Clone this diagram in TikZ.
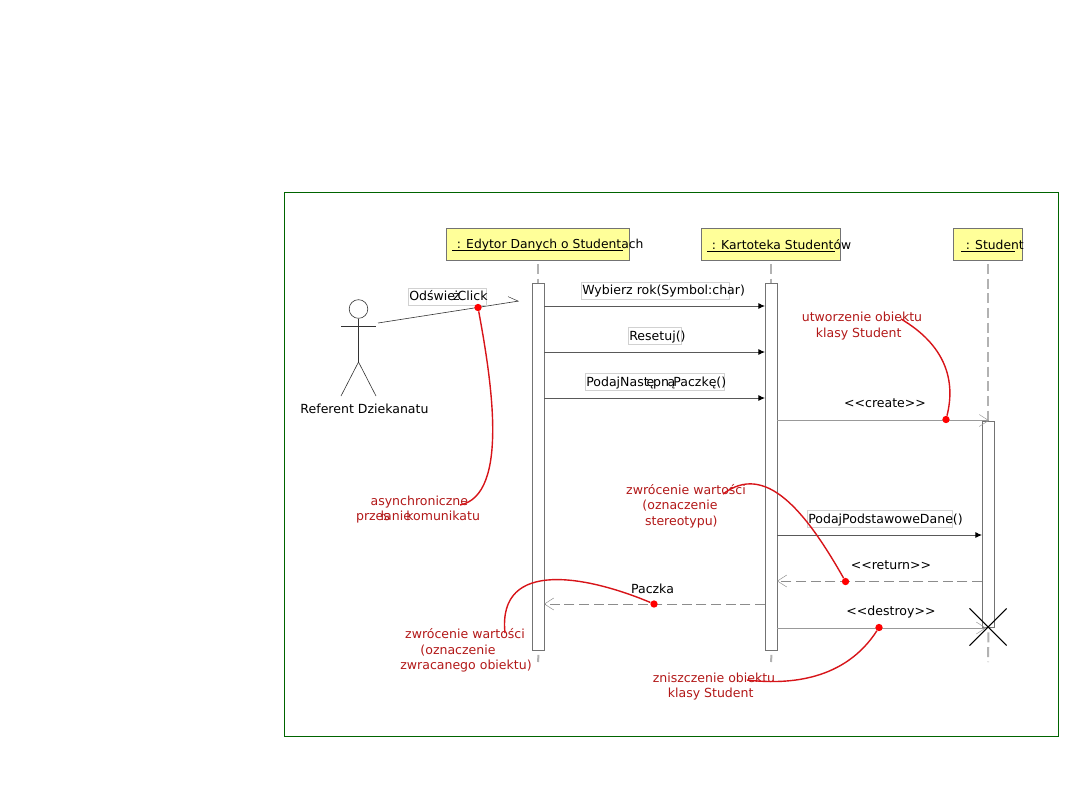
\documentclass[tikz,border=0pt]{standalone}
\usepackage{fontspec}
\setmainfont{DejaVu Sans}
\usepackage{tikz}
\usetikzlibrary{arrows.meta, shapes.misc}
\definecolor{framegreen}{RGB}{0,100,0}
\definecolor{headyellow}{RGB}{255,255,153}
\definecolor{noteline}{RGB}{215,20,25}
\definecolor{notetext}{RGB}{178,24,24}
\newcommand{\HeadText}[2]{\rlap{\hspace{0.5pt}#2}\rule[-1.6pt]{#1}{0.5pt}}
\newcommand{\BoxText}[2]{\rlap{#2}\rule{#1}{0pt}}
\tikzset{
    every node/.append style={font=\fontsize{9.4}{11.6}\selectfont},
    head/.style={draw=black!55, fill=headyellow, line width=0.7pt, inner sep=0, anchor=north west},
    headlabel/.style={anchor=west, inner sep=0, font=\fontsize{9.25}{11.6}\selectfont},
    bar/.style={draw=black!55, fill=white, line width=0.7pt, inner sep=0, anchor=north west, minimum width=9pt},
    lifeline/.style={draw=black!30, line width=1.5pt, dash pattern=on 7.5pt off 3.5pt},
    msg/.style={draw=black!65, line width=0.7pt, -{Latex[length=5pt,width=4.5pt,black]}},
    msgopen/.style={draw=black!40, line width=0.6pt, -{Straight Barb[length=7pt,width=9pt,line width=0.35pt]}},
    msgback/.style={msgopen, draw=black!45, dash pattern=on 7.5pt off 3.5pt},
    msgbox/.style={draw=black!18, line width=0.5pt, inner sep=0.8pt, anchor=west, text height=8.5pt, text depth=2.5pt},
    msgtext/.style={inner sep=0},
    note/.style={text=notetext, align=center, inner sep=0},
    notedot/.style={circle, fill=red, inner sep=0, minimum size=5.5pt},
    noteline/.style={draw=noteline, line width=1.05pt},
    stick/.style={draw=black!80, line width=0.45pt},
}
\begin{document}
\begin{tikzpicture}[x=0.75pt, y=-0.75pt]
    \useasboundingbox (0,0) rectangle (1080,810);
    \draw[framegreen, line width=0.75pt] (284.5,192.5) rectangle (1058.5,736.5);

    % objects in the top row
    \node[head, minimum width=137.2pt, minimum height=24pt] (edytor) at (446,228) {};
    \node[head, minimum width=104.2pt, minimum height=24pt] (kartoteka) at (701,228) {};
    \node[head, minimum width=51.7pt, minimum height=24pt] (student) at (953,228) {};
    \node[headlabel] (edytortext) at (452,245.5) {\HeadText{128pt}{\ : Edytor Danych o Studentach}};
    \node[headlabel] (kartotekatext) at (707,245.5) {\HeadText{96pt}{\ : Kartoteka Studentów}};
    \node[headlabel] (studenttext) at (961,245.5) {\HeadText{40.5pt}{\ : Student}};

    % activation bars
    \node[bar, minimum height=275.2pt] (edytorbar) at (532,283) {};
    \node[bar, minimum height=275.2pt] (kartotekabar) at (765,283) {};
    \node[bar, minimum height=155.2pt] (studentbar) at (982,420.5) {};

    % lifelines
    \coordinate (edytorend) at (538,662);
    \coordinate (kartotekaend) at (771,662);
    \coordinate (studentend) at (988,662);
    \draw[lifeline] (edytor.south -| edytorbar.north) ++(0,3) -- (edytorbar.north);
    \draw[lifeline] (edytorbar.south) ++(0,4) -- (edytorend);
    \draw[lifeline] (kartoteka.south -| kartotekabar.north) ++(0,3) -- (kartotekabar.north);
    \draw[lifeline] (kartotekabar.south) ++(0,4) -- (kartotekaend);
    \draw[lifeline] (student.south -| studentbar.north) ++(0,3) -- (studentbar.north);
    \draw[lifeline] (studentbar.south) ++(0,4) -- (studentend);

    % actor
    \node[circle, draw=black!80, line width=0.45pt, inner sep=0, minimum size=14pt] (actorhead) at (358.5,309) {};
    \coordinate (armleft) at (341,326);
    \coordinate (armright) at (376,326);
    \coordinate (hip) at (358.5,362);
    \coordinate (footleft) at (341,396);
    \coordinate (footright) at (376,396);
    \draw[stick] (actorhead) -- (hip);
    \draw[stick] (armleft) -- (armright);
    \draw[stick] (footleft) -- (hip) -- (footright);
    \node[msgtext] (actorname) at (364.5,409) {Referent Dziekanatu};

    % messages
    \coordinate (clickstart) at (378,323);
    \coordinate (clickend) at (519,301);
    \draw[stick, -{Straight Barb[length=7pt,width=9pt,line width=0.35pt,left]}] (clickstart) -- (clickend);
    \node[msgbox] (clickbox) at (407.5,296.5) {\BoxText{57.5pt}{\kern0.3ptOdświe\kern-1.5ptż\kern-1.5ptClick}};

    \coordinate (wybierzstart) at (544,306);
    \coordinate (wybierzend) at (765,306);
    \draw[msg] (wybierzstart) -- (wybierzend);
    \node[msgbox] (wybierzbox) at (580.5,290.5) {\BoxText{109.5pt}{\kern0.3ptWybierz rok(Symbol:char)}};

    \coordinate (resetujstart) at (544,352);
    \coordinate (resetujend) at (765,352);
    \draw[msg] (resetujstart) -- (resetujend);
    \node[msgbox] (resetujbox) at (627.5,336) {\BoxText{38.5pt}{\kern0.3ptResetuj()}};

    \coordinate (podajstart) at (544,398);
    \coordinate (podajend) at (765,398);
    \draw[msg] (podajstart) -- (podajend);
    \node[msgbox] (podajbox) at (584.5,382) {\BoxText{103pt}{\kern0.3ptPodajNast\kern-1.5ptę\kern-1ptpn\kern-1ptą\kern-1.5ptPaczkę()}};

    \coordinate (createstart) at (777,420.5);
    \coordinate (createend) at (989,420.5);
    \draw[msgopen] (createstart) -- (createend);
    \node[msgtext] (createtext) at (885,403) {<{}<create>{}>};

    \coordinate (danestart) at (777,535);
    \coordinate (daneend) at (982,535);
    \draw[msg] (danestart) -- (daneend);
    \node[msgbox] (danebox) at (806.5,519) {\BoxText{107.5pt}{\kern0.3ptPodajPodstawoweDane()}};

    \coordinate (returnstart) at (982,581);
    \coordinate (returnend) at (777,581);
    \draw[msgback] (returnstart) -- (returnend);
    \node[msgtext] (returntext) at (891,565.5) {<{}<return>{}>};

    \coordinate (paczkastart) at (765,604);
    \coordinate (paczkaend) at (544,604);
    \draw[msgback] (paczkastart) -- (paczkaend);
    \node[msgtext] (paczkatext) at (652.5,589) {Paczka};

    \coordinate (destroystart) at (777,628);
    \coordinate (destroyend) at (986,628);
    \draw[msgopen] (destroystart) -- (destroyend);
    \node[msgtext] (destroytext) at (891,612.5) {<{}<destroy>{}>};

    \node[cross out, draw=black, line width=0.8pt, inner sep=0, minimum size=27pt] (studentcross) at (988,627) {};

    % red notes
    \node[note] (clicknote) at (418,509.5) {\kern2pt asynchroniczne\\przes\kern-7pt łanie\kern-6.5pt\ komunikatu};
    \node[note] (createnote) at (862,326) {utworzenie obiektu\\\kern-5pt klasy Student};
    \node[note] (returnnote) at (686,506) {zwrócenie wartości\\\kern-9pt (oznaczenie\\\kern-7pt stereotypu)};
    \node[note] (paczkanote) at (466,650.5) {\kern-1.5pt zwrócenie wartości\\\kern-12pt (oznaczenie\\zwracanego obiektu)};
    \node[note] (destroynote) at (714,686.5) {zniszczenie obiektu\\\kern-5pt klasy Student};

    \node[notedot] (clickdot) at (478,307.5) {};
    \node[notedot] (createdot) at (946,419.5) {};
    \node[notedot] (returndot) at (845.5,581.5) {};
    \node[notedot] (paczkadot) at (654,604) {};
    \node[notedot] (destroydot) at (879,627.5) {};

    \coordinate (clickfree) at (460,505);
    \coordinate (createfree) at (901,319);
    \coordinate (returnfree) at (723,494);
    \coordinate (paczkafree) at (505,633);
    \coordinate (destroyfree) at (747,680);

    \draw[noteline] (clickdot) .. controls (491,378) and (510,495) .. (clickfree);
    \draw[noteline] (createdot) .. controls (956,380) and (945,345) .. (createfree);
    \draw[noteline] (returndot) .. controls (805,510) and (765,462) .. (returnfree);
    \draw[noteline] (paczkadot) .. controls (590,577) and (497,557) .. (paczkafree);
    \draw[noteline] (destroydot) .. controls (845,680) and (790,685) .. (destroyfree);
\end{tikzpicture}
\end{document}
